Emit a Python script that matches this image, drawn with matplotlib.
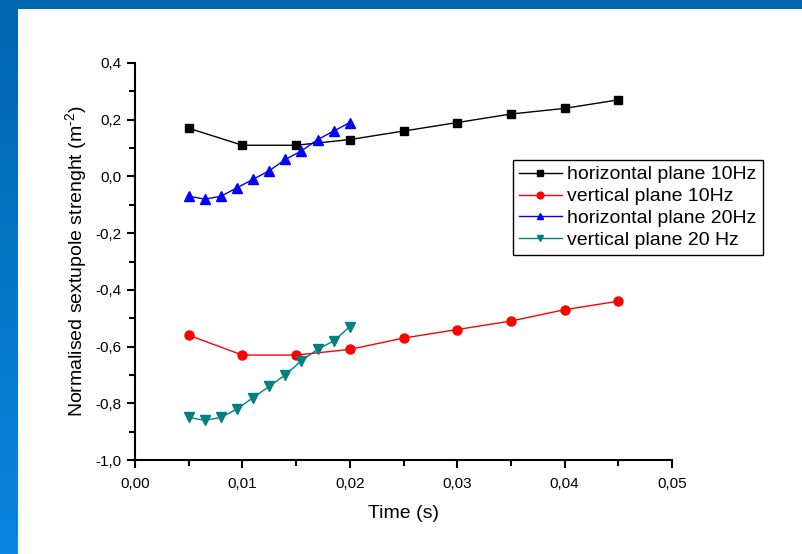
import matplotlib
matplotlib.use("Agg")
import matplotlib.pyplot as plt
import numpy as np
from matplotlib.patches import Rectangle
from matplotlib.colors import LinearSegmentedColormap
from matplotlib.ticker import MultipleLocator, FuncFormatter

plt.rcParams['font.family'] = ['Liberation Sans', 'DejaVu Sans']
plt.rcParams['mathtext.fontset'] = 'custom'
plt.rcParams['mathtext.rm'] = 'Liberation Sans'

# data
t_10hz = [0.005, 0.010, 0.015, 0.020, 0.025, 0.030, 0.035, 0.040, 0.045]
h_10hz = [0.17, 0.11, 0.11, 0.13, 0.16, 0.19, 0.22, 0.24, 0.27]
v_10hz = [-0.56, -0.63, -0.63, -0.61, -0.57, -0.54, -0.51, -0.47, -0.44]

t_20hz = [0.005, 0.0065, 0.008, 0.0095, 0.011, 0.0125, 0.014, 0.0155, 0.017, 0.0185, 0.020]
h_20hz = [-0.07, -0.08, -0.07, -0.04, -0.01, 0.02, 0.06, 0.09, 0.13, 0.16, 0.19]
v_20hz = [-0.85, -0.86, -0.85, -0.82, -0.78, -0.74, -0.70, -0.65, -0.61, -0.58, -0.53]

labels = ['horizontal plane 10Hz', 'vertical plane 10Hz',
          'horizontal plane 20Hz', 'vertical plane 20 Hz']

fig = plt.figure(figsize=(8.02, 5.54), dpi=100)
fig.patch.set_facecolor('white')

# slide frame: blue top band and gradient left band
fig.patches.append(Rectangle((0, 1 - 9 / 554), 1, 9 / 554, transform=fig.transFigure,
                             facecolor='#0066b0', edgecolor='none', zorder=0))
band = fig.add_axes([0, 0, 18 / 802, 1])
grad = np.linspace(0, 1, 256).reshape(-1, 1)
cmap = LinearSegmentedColormap.from_list('slide', ['#0066b0', '#0a86de'])
band.imshow(grad, aspect='auto', cmap=cmap, extent=[0, 1, 0, 1], origin='upper')
band.axis('off')

ax = fig.add_axes([135 / 802, 1 - 460 / 554, (672 - 135) / 802, (460 - 63) / 554])

ax.plot(t_10hz, h_10hz, '-s', color='black', lw=1, ms=5.5, label=labels[0])
ax.plot(t_10hz, v_10hz, '-o', color='red', lw=1, ms=6.5, label=labels[1])
ax.plot(t_20hz, h_20hz, '-^', color='blue', lw=1, ms=6.5, label=labels[2])
ax.plot(t_20hz, v_20hz, '-v', color='#008080', lw=1, ms=6.5, label=labels[3])

ax.set_xlim(0, 0.05)
ax.set_ylim(-1.0, 0.4)
ax.xaxis.set_major_locator(MultipleLocator(0.01))
ax.xaxis.set_minor_locator(MultipleLocator(0.005))
ax.yaxis.set_major_locator(MultipleLocator(0.2))
ax.yaxis.set_minor_locator(MultipleLocator(0.1))
ax.xaxis.set_major_formatter(FuncFormatter(lambda v, p: f'{v:.2f}'.replace('.', ',')))
ax.yaxis.set_major_formatter(FuncFormatter(lambda v, p: f'{v:.1f}'.replace('.', ',').replace('-0,0', '0,0')))

for s in ['top', 'right']:
    ax.spines[s].set_visible(False)
for s in ['left', 'bottom']:
    ax.spines[s].set_linewidth(1.5)
ax.tick_params(which='major', direction='out', length=6, width=1.5, labelsize=11)
ax.tick_params(which='minor', direction='out', length=4, width=1.5)
ax.tick_params(axis='x', which='major', pad=6)

ax.set_xlabel('Time (s)', fontsize=14, labelpad=10)
ax.set_ylabel('Normalised sextupole strenght (m$^{\\text{-2}}$)', fontsize=14, labelpad=4)

leg = ax.legend(loc='upper left', bbox_to_anchor=(378 / 537, 300 / 397), fontsize=14,
                frameon=True, fancybox=False, edgecolor='black', framealpha=1,
                handlelength=2.2, handletextpad=0.3, borderpad=0.3, borderaxespad=0,
                labelspacing=0.22, markerscale=0.75)
leg.get_frame().set_linewidth(1)

fig.savefig('out.png', dpi=100)
